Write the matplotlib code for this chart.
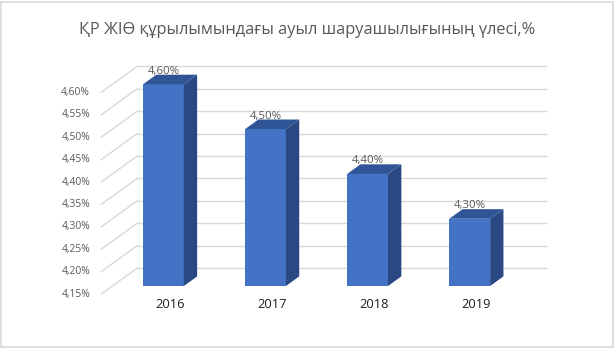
import matplotlib
matplotlib.use("Agg")
import matplotlib.pyplot as plt
from matplotlib.patches import Polygon, Rectangle

# ---- data ----
years = ["2016", "2017", "2018", "2019"]
shares = [4.60, 4.50, 4.40, 4.30]
value_labels = ["4,60%", "4,50%", "4,40%", "4,30%"]
tick_values = [4.15, 4.20, 4.25, 4.30, 4.35, 4.40, 4.45, 4.50, 4.55, 4.60]
tick_labels = ["4,15%", "4,20%", "4,25%", "4,30%", "4,35%", "4,40%",
               "4,45%", "4,50%", "4,55%", "4,60%"]
title = "ҚР ЖІӨ құрылымындағы ауыл шаруашылығының үлесі,%"

W, H = 614, 348
fig = plt.figure(figsize=(W / 100, H / 100), dpi=100)
fig.patch.set_facecolor("white")

# axes for the bar front plane (pixel-calibrated)
px_per_cat = 102.1
px_per_val = 448.2
x0_px = 163.4          # category 0 centre
ybase_px = 286.0       # value 4.15 (from top)
ymin, ymax = 4.15, 4.65
xmin, xmax = -0.5, 3.5
left = (x0_px + xmin * px_per_cat) / W
width = (xmax - xmin) * px_per_cat / W
bottom = (H - ybase_px) / H
height = (ymax - ymin) * px_per_val / H
ax = fig.add_axes([left, bottom, width, height])
ax.set_xlim(xmin, xmax)
ax.set_ylim(ymin, ymax)
ax.axis("off")

# oblique depth offsets (per unit depth fraction)
ddx = 36.0 / px_per_cat
ddy = 26.0 / px_per_val
f_front, f_back = -0.31, 0.69
bar_depth = 0.37
half_w = 0.20

grid_c = "#d9d9d9"
for v in tick_values:
    xf, yf = xmin + f_front * ddx, v + f_front * ddy
    xb, yb = xmin + f_back * ddx, v + f_back * ddy
    ax.plot([xf, xb], [yf, yb], color=grid_c, lw=1.0, zorder=1, clip_on=False)
    ax.plot([xb, xmax + f_back * ddx], [yb, yb], color=grid_c, lw=1.0,
            zorder=1, clip_on=False)

for v, lab in zip(tick_values, tick_labels):
    ax.annotate(lab, xy=(xmin + f_front * ddx, v + f_front * ddy),
                xytext=(-8, 0), textcoords="offset points",
                ha="right", va="center", fontsize=7.4, color="#595959",
                family=["Open Sans", "DejaVu Sans"], annotation_clip=False)

front_c = "#4472C4"
top_c = "#2F5597"
side_c = "#2A4882"
bx = bar_depth * ddx
by = bar_depth * ddy
for i, v in enumerate(shares):
    ax.add_patch(Rectangle((i - half_w, ymin), 2 * half_w, v - ymin,
                           facecolor=front_c, edgecolor="none", zorder=3,
                           clip_on=False))
    ax.add_patch(Polygon([(i + half_w, ymin), (i + half_w, v),
                          (i + half_w + bx, v + by), (i + half_w + bx, ymin + by)],
                         closed=True, facecolor=side_c, edgecolor="none",
                         zorder=3, clip_on=False))
    ax.add_patch(Polygon([(i - half_w, v), (i + half_w, v),
                          (i + half_w + bx, v + by), (i - half_w + bx, v + by)],
                         closed=True, facecolor=top_c, edgecolor="none",
                         zorder=3, clip_on=False))
    ax.annotate(value_labels[i], xy=(i, v), xytext=(0, 9.4),
                textcoords="offset points", ha="center", va="center",
                fontsize=8.2, color="#595959",
                family=["Open Sans", "DejaVu Sans"], zorder=5,
                annotation_clip=False)
    ax.annotate(years[i], xy=(i + bx / 2, ymin), xytext=(0, -13),
                textcoords="offset points", ha="center", va="center",
                fontsize=9.3, color="#1f1f1f",
                family=["Open Sans", "DejaVu Sans"], annotation_clip=False)

fig.text(307 / W, 1 - 29.5 / H, title, ha="center", va="center",
         fontsize=11.8, color="#595959", family=["Open Sans", "DejaVu Sans"])

fig.add_artist(Rectangle((1.0 / W, 1.5 / H), 611.5 / W, 345.0 / H,
                         transform=fig.transFigure, fill=False,
                         edgecolor="#d9d9d9", lw=1.2))

fig.savefig("out.png", dpi=100, facecolor="white")
